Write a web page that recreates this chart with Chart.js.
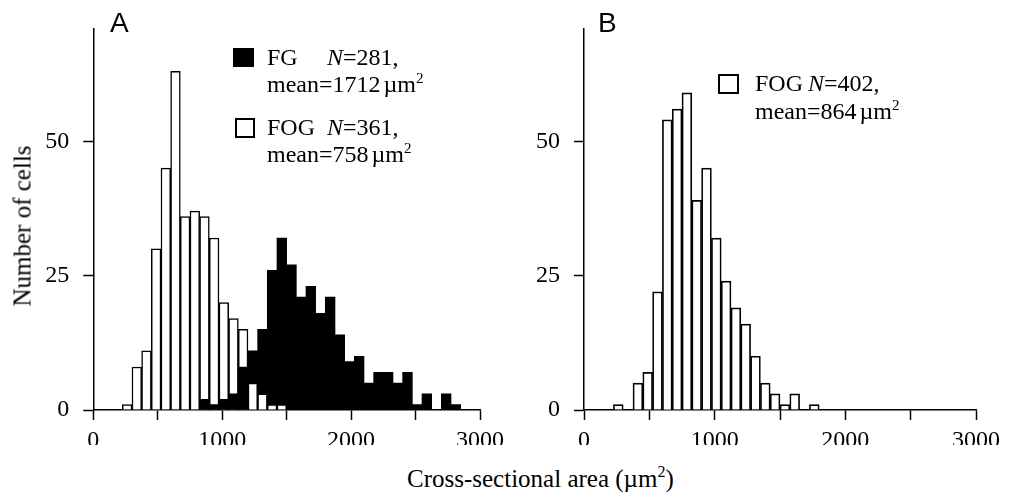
<!DOCTYPE html>
<html><head><meta charset="utf-8">
<script src="https://cdn.jsdelivr.net/npm/chart.js@4.4.0/dist/chart.umd.min.js"></script>
<style>
html,body{margin:0;padding:0;background:#fff;}
body{width:1015px;height:492px;position:relative;overflow:hidden;font-family:"Liberation Serif","Times New Roman",serif;color:#000;}
canvas{position:absolute;top:0;}
#ca{left:0;}
#cb{left:500px;}
.lbl{position:absolute;font-size:24px;line-height:24px;white-space:nowrap;}
.lbl sup{font-size:15px;line-height:0;vertical-align:9px;}
.panel{position:absolute;font-family:"Liberation Sans",Arial,sans-serif;font-size:28px;line-height:28px;}
.sq{position:absolute;box-sizing:border-box;}
.ytitle{position:absolute;font-size:25px;line-height:25px;white-space:nowrap;transform:translate(-50%,-50%) rotate(-90deg);}
.xtitle{position:absolute;font-size:25px;line-height:25px;white-space:nowrap;}
</style></head>
<body>
<canvas id="ca" width="510" height="445"></canvas>
<canvas id="cb" width="510" height="445"></canvas>

<div class="panel" style="left:110px;top:9px">A</div>
<div class="panel" style="left:598px;top:9px">B</div>

<div class="sq" style="left:233px;top:48px;width:21px;height:19px;background:#000"></div>
<div class="lbl" style="left:267px;top:45px">FG</div>
<div class="lbl" style="left:327px;top:45px"><i>N</i>=281,</div>
<div class="lbl" style="left:267px;top:72px">mean=1712<span style="margin-left:3px">µm</span><sup>2</sup></div>
<div class="sq" style="left:235px;top:118px;width:20px;height:20px;border:2px solid #000;background:#fff"></div>
<div class="lbl" style="left:267px;top:115px">FOG</div>
<div class="lbl" style="left:327px;top:115px"><i>N</i>=361,</div>
<div class="lbl" style="left:267px;top:142px">mean=758<span style="margin-left:3px">µm</span><sup>2</sup></div>

<div class="sq" style="left:718px;top:74px;width:21px;height:20px;border:2px solid #000;background:#fff"></div>
<div class="lbl" style="left:755px;top:71px">FOG</div>
<div class="lbl" style="left:808px;top:71px"><i>N</i>=402,</div>
<div class="lbl" style="left:755px;top:99px">mean=864<span style="margin-left:3px">µm</span><sup>2</sup></div>

<div class="ytitle" style="left:22px;top:226px">Number of cells</div>
<div class="xtitle" style="left:407px;top:466px">Cross-sectional area (µm<sup style="font-size:16px;line-height:0;vertical-align:10px">2</sup>)</div>

<script>
// ---- data ----
const binStartsA = [225,300,375,450,525,600,675,750,825,900,975,1050,1125,1200,1275,1350,1425,1500,1575,1650,1725,1800,1875,1950,2025,2100,2175,2250,2325,2400,2475,2550,2625,2700,2775];
const fogA = [1,8,11,30,45,63,36,37,36,32,20,17,15,5,3,1,1,0,0,0,0,0,0,0,0,0,0,0,0,0,0,0,0,0,0];
const fgA  = [0,0,0,0,0,0,0,0,2,1,2,3,8,11,15,26,32,27,21,23,18,21,14,9,10,5,7,7,5,7,1,3,0,3,1];
const binStartsB = [225,300,375,450,525,600,675,750,825,900,975,1050,1125,1200,1275,1350,1425,1500,1575,1650,1725];
const fogB = [1,0,5,7,22,54,56,59,39,45,32,24,19,16,10,5,3,1,3,0,1];
const binWidth = 75;
const yTicks = [0,25,50];
const xTicks = [0,500,1000,1500,2000,2500,3000];
const xLabels = [0,1000,2000,3000];
const yMax = 71;

const pts = (starts, vals, keep) => starts.map((s,i) => ({x: s + binWidth/2, y: (vals[i] > 0 && (!keep || keep(i))) ? vals[i] : null}));

const tickFont = {family: "'Liberation Serif','Times New Roman',serif", size: 24};

function makeOptions(yWidth, padRight) {
  return {
    responsive: false,
    animation: false,
    devicePixelRatio: 1,
    layout: {padding: {top: 22, right: padRight, left: 0, bottom: 0}},
    plugins: {legend: {display: false}, tooltip: {enabled: false}},
    scales: {
      x: {
        type: 'linear', min: 0, max: 3000, offset: false,
        afterBuildTicks: s => { s.ticks = xTicks.map(v => ({value: v})); },
        afterFit: s => { s.height = 35; },
        ticks: {autoSkip: false, maxRotation: 0, padding: 6, color: '#000', font: tickFont,
                callback: v => xLabels.includes(v) ? String(v) : ''},
        grid: {display: true, drawOnChartArea: false, drawTicks: true, tickLength: 10, tickWidth: 1.5, tickColor: '#000', offset: false},
        border: {display: true, color: '#000', width: 1.5}
      },
      y: {
        min: 0, max: yMax,
        afterBuildTicks: s => { s.ticks = yTicks.map(v => ({value: v})); },
        afterFit: s => { s.width = yWidth; },
        ticks: {padding: 14, color: '#000', font: tickFont},
        grid: {display: true, drawOnChartArea: false, drawTicks: true, tickLength: 10, tickWidth: 1.5, tickColor: '#000'},
        border: {display: true, color: '#000', width: 1.5}
      }
    }
  };
}

const barCommon = {barPercentage: 1, categoryPercentage: 1, grouped: false};

new Chart(document.getElementById('ca'), {
  type: 'bar',
  data: {
    datasets: [
      Object.assign({label: 'FOG front', order: 0, data: pts(binStartsA, fogA, i => fogA[i] < fgA[i]),
        backgroundColor: '#fff', borderColor: '#000', borderWidth: 1.5}, barCommon),
      Object.assign({label: 'FG', order: 1, data: pts(binStartsA, fgA),
        backgroundColor: '#000', borderColor: '#000', borderWidth: 0}, barCommon),
      Object.assign({label: 'FOG', order: 2, data: pts(binStartsA, fogA),
        backgroundColor: '#fff', borderColor: '#000', borderWidth: 1.5}, barCommon)
    ]
  },
  options: makeOptions(93.3, 24.5)
});

new Chart(document.getElementById('cb'), {
  type: 'bar',
  data: {
    datasets: [
      Object.assign({label: 'FOG', data: pts(binStartsB, fogB),
        backgroundColor: '#fff', borderColor: '#000', borderWidth: 1.7}, barCommon)
    ]
  },
  options: makeOptions(84, 34)
});
</script>
</body></html>
